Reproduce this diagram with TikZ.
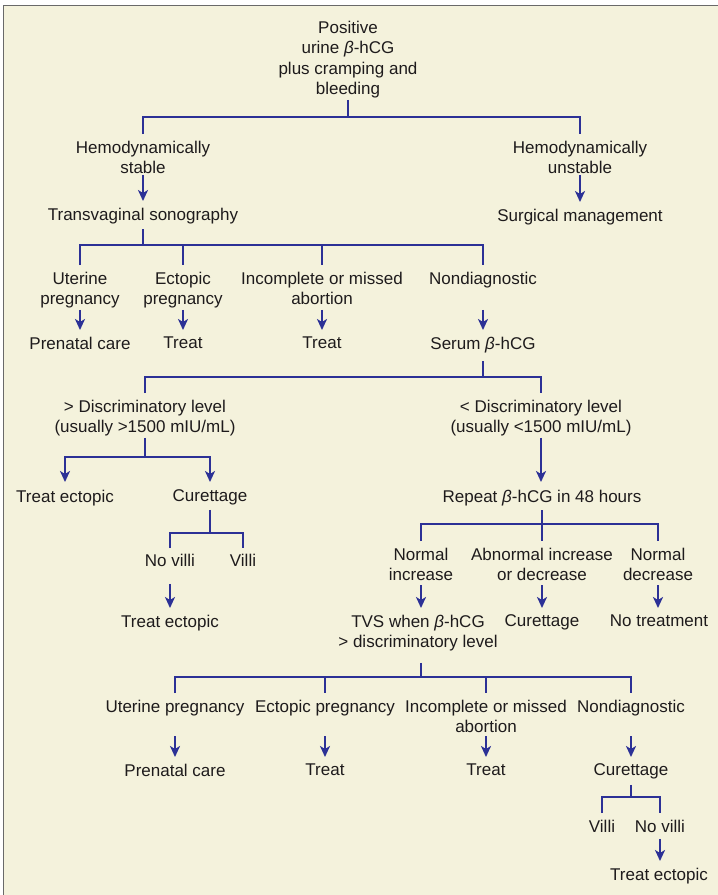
\documentclass[tikz,border=0pt]{standalone}
\usepackage{fontspec}
\setmainfont{Liberation Sans}
\usetikzlibrary{arrows.meta}
\definecolor{bgbeige}{RGB}{244,242,220}
\definecolor{navy}{RGB}{44,49,150}
\definecolor{ink}{RGB}{30,27,28}
\definecolor{framegray}{RGB}{105,105,105}
\tikzset{arrowtip/.tip={Stealth[length=11pt,width=10pt,inset=3pt]}}

\begin{document}
\begin{tikzpicture}[x=1pt,y=-1pt,
	every node/.style={anchor=north,inner sep=1.5pt,align=center,text=ink,font=\fontsize{17}{20.5}\selectfont},
	line/.style={navy,line width=2.8pt},
	drop/.style={line,shorten >=5pt},
	arr/.style={line,-arrowtip,shorten >=5pt}]
	% Background and frame
	\useasboundingbox (0,0) rectangle (718,895);
	\fill[white] (0,0) rectangle (718,895);
	\fill[bgbeige] (3.5,5.5) rectangle (718,895);
	\draw[framegray,line width=1.5pt] (3.5,895) -- (3.5,5.5) -- (718,5.5);

	% Nodes
	\node (top) at (348,19) {Positive\\urine \textit{β}-hCG\\plus cramping and\\bleeding};
	\node (stable) at (143,139) {Hemodynamically\\stable};
	\node (unstable) at (580,139) {Hemodynamically\\unstable};
	\node (tvs) at (143,206) {Transvaginal sonography};
	\node (surg) at (580,207) {Surgical management};
	\node (uter) at (80,270) {Uterine\\pregnancy};
	\node (ecto) at (183,270) {Ectopic\\pregnancy};
	\node (incom) at (322,270) {Incomplete or missed\\abortion};
	\node (nondiag) at (483,270) {Nondiagnostic};
	\node (prenatal) at (80,335) {Prenatal care};
	\node (treatA) at (183,335) {Treat};
	\node (treatB) at (322,335) {Treat};
	\node (serum) at (483,335) {Serum \textit{β}-hCG};
	\node (above) at (145,398) {> Discriminatory level\\(usually >1500 mIU/mL)};
	\node (below) at (541,398) {< Discriminatory level\\(usually <1500 mIU/mL)};
	\node (ectopicA) at (65,488) {Treat ectopic};
	\node (curA) at (210,488) {Curettage};
	\node (repeat) at (542,488) {Repeat \textit{β}-hCG in 48 hours};
	\node (novilliA) at (170,552) {No villi};
	\node (villiA) at (243,552) {Villi};
	\node (ectopicB) at (170,613) {Treat ectopic};
	\node (normup) at (421,546) {Normal\\increase};
	\node (abnormal) at (542,546) {Abnormal increase\\or decrease};
	\node (normdown) at (658,546) {Normal\\decrease};
	\node (tvsB) at (418,613) {TVS when \textit{β}-hCG\\> discriminatory level};
	\node (curB) at (542,613) {Curettage};
	\node (notreat) at (659,613) {No treatment};
	\node (uterB) at (175,698) {Uterine pregnancy};
	\node (ectoB) at (325,698) {Ectopic pregnancy};
	\node (incomB) at (486,698) {Incomplete or missed\\abortion};
	\node (nondiagB) at (631,698) {Nondiagnostic};
	\node (prenatalB) at (175,762) {Prenatal care};
	\node (treatC) at (325,762) {Treat};
	\node (treatD) at (486,762) {Treat};
	\node (curC) at (631,762) {Curettage};
	\node (villiB) at (602,818) {Villi};
	\node (novilliB) at (660,818) {No villi};
	\node (ectopicC) at (659,866) {Treat ectopic};

	% Junctions of the brackets
	\coordinate (j0) at (348,117);
	\coordinate (j1) at (143,245);
	\coordinate (j2) at (483,377);
	\coordinate (j3) at (145,457);
	\coordinate (j4) at (210,533);
	\coordinate (j5) at (542,524);
	\coordinate (j6) at (421,677);
	\coordinate (j7) at (631,797);

	% Stability
	\draw[line] (top.south) -- (j0);
	\draw[line,shorten <=5pt,shorten >=5pt] (stable.north) |- (j0) -| (unstable.north);
	\draw[arr] (stable.south) -- (tvs.north);
	\draw[arr] (unstable.south) -- (surg.north);

	% Sonography
	\draw[line,shorten <=4pt] (tvs.south) -- (j1);
	\draw[line,shorten <=5pt,shorten >=5pt] (uter.north) |- (j1) -| (nondiag.north);
	\foreach \n in {ecto,incom}
		\draw[drop] (j1 -| \n) -- (\n.north);
	\foreach \a/\b in {uter/prenatal,ecto/treatA,incom/treatB,nondiag/serum}
		\draw[arr] (\a |- uter.south) -- (\a |- \b.north);

	% Serum level
	\draw[line,shorten <=7pt] (serum.south) -- (j2);
	\draw[line,shorten <=5pt,shorten >=5pt] (above.north) |- (j2) -| (below.north);
	\draw[line] (above.south) -- (j3);
	\draw[line,arrowtip-arrowtip,shorten <=6pt,shorten >=6pt] (ectopicA.north) |- (j3) -| (curA.north);
	\draw[arr,shorten >=6pt] (below.south) -- (below.south |- repeat.north);

	% Curettage, left
	\draw[line,shorten <=3pt] (curA.south) -- (j4);
	\draw[line,shorten <=4pt,shorten >=4pt] (novilliA.north) |- (j4) -| (villiA.north);
	\draw[arr,shorten <=16pt] (novilliA.south) -- (ectopicB.north);

	% Repeat
	\draw[line,shorten <=3pt,shorten >=5pt] (repeat.south) -- (abnormal.north);
	\draw[line,shorten <=5pt,shorten >=5pt] (normup.north) |- (j5) -| (normdown.north);
	\foreach \a/\b in {normup/tvsB,abnormal/curB,normdown/notreat}
		\draw[arr,shorten <=3pt] (\a |- normup.south) -- (\a |- \b.north);

	% Second sonography
	\draw[line,shorten <=10pt] (tvsB.south -| j6) -- (j6);
	\draw[line,shorten <=5pt,shorten >=5pt] (uterB.north) |- (j6) -| (nondiagB.north);
	\foreach \n in {ectoB,incomB}
		\draw[drop] (j6 -| \n) -- (\n.north);
	\foreach \a/\b in {uterB/prenatalB,ectoB/treatC,incomB/treatD,nondiagB/curC}
		\draw[arr,shorten <=2pt] (\a |- incomB.south) -- (\a |- \b.north);

	% Curettage, bottom
	\draw[line,shorten <=4pt] (curC.south) -- (j7);
	\draw[line,shorten <=5pt,shorten >=5pt] (villiB.north) |- (j7) -| (novilliB.north);
	\draw[arr,shorten <=5pt] (novilliB.south) -- (novilliB.south |- ectopicC.north);
\end{tikzpicture}
\end{document}
